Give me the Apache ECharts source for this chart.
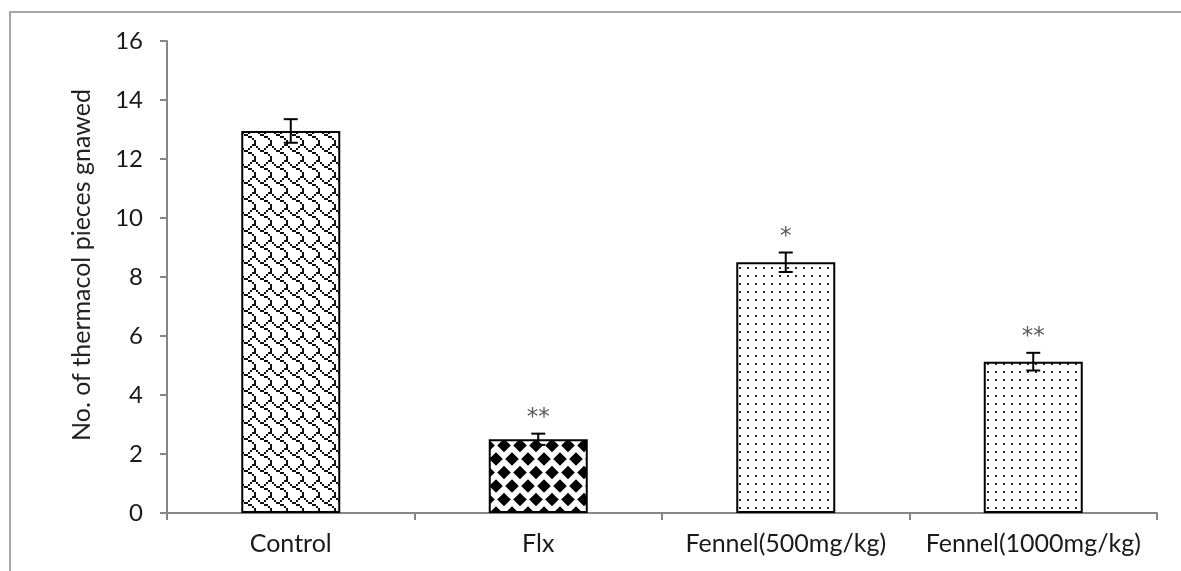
<!DOCTYPE html>
<html>
<head>
<meta charset="utf-8">
<script src="https://cdn.jsdelivr.net/npm/echarts@6/dist/echarts.min.js"></script>
<style>
  html, body { margin: 0; padding: 0; background: #fff; }
  #chart { width: 1181px; height: 571px; }
</style>
</head>
<body>
<div id="chart"></div>
<script>
// Groups, mean number of pieces gnawed, SEM and significance marks
const categories = ['Control', 'Flx', 'Fennel(500mg/kg)', 'Fennel(1000mg/kg)'];
const means = [12.95, 2.5, 8.5, 5.13];
const sems = [0.4, 0.19, 0.33, 0.3];
const marks = ['', '**', '*', '**'];
const yTicks = { min: 0, max: 16, interval: 2 };
const fillKinds = ['shingle', 'diamond', 'dots', 'dots'];

const FONT = 'Lato';

// ---- fill pattern tiles ----
function shingleTile() {
  const rows = [0x03, 0x84, 0x48, 0x30, 0x0c, 0x02, 0x01, 0x01];
  const s = 2;
  const c = document.createElement('canvas');
  c.width = 8 * s; c.height = 8 * s;
  const g = c.getContext('2d');
  g.fillStyle = '#fff'; g.fillRect(0, 0, c.width, c.height);
  g.fillStyle = '#111';
  for (let y = 0; y < 8; y++) {
    for (let x = 0; x < 8; x++) {
      if (rows[y] & (0x80 >> x)) g.fillRect(x * s, y * s, s, s);
    }
  }
  return c;
}
function diamondTile() {
  const w = 16, h = 27, r = 6.8;
  const c = document.createElement('canvas');
  c.width = w; c.height = h;
  const g = c.getContext('2d');
  g.fillStyle = '#fff'; g.fillRect(0, 0, w, h);
  g.fillStyle = '#000';
  const centers = [[0, 0], [w, 0], [0, h], [w, h], [w / 2, h / 2]];
  centers.forEach(([cx, cy]) => {
    g.beginPath();
    g.moveTo(cx, cy - r); g.lineTo(cx + r, cy); g.lineTo(cx, cy + r); g.lineTo(cx - r, cy);
    g.closePath(); g.fill();
  });
  return c;
}
function dotsTile() {
  const c = document.createElement('canvas');
  c.width = 8; c.height = 8;
  const g = c.getContext('2d');
  g.fillStyle = '#fff'; g.fillRect(0, 0, 8, 8);
  g.fillStyle = '#2a2a2a';
  g.fillRect(3, 3, 2, 2);
  return c;
}
const tiles = { shingle: shingleTile(), diamond: diamondTile(), dots: dotsTile() };

const barData = means.map((v, i) => ({
  value: v,
  itemStyle: { color: { image: tiles[fillKinds[i]], repeat: 'repeat' } }
}));
const errData = means.map((v, i) => [i, v, sems[i], marks[i]]);

const chart = echarts.init(document.getElementById('chart'), null, { renderer: 'canvas' });
chart.setOption({
  animation: false,
  backgroundColor: '#fff',
  grid: { left: 167, right: 24, top: 41, bottom: 58 },
  graphic: [
    { type: 'rect', shape: { x: 10, y: 12, width: 1250, height: 650 },
      style: { fill: 'none', stroke: '#a6a6a6', lineWidth: 2 }, silent: true },
    { type: 'text', x: 82, y: 265, rotation: Math.PI / 2,
      style: { text: 'No. of thermacol pieces gnawed', font: '25px ' + FONT, fill: '#222',
               align: 'center', verticalAlign: 'middle' } }
  ],
  xAxis: {
    type: 'category',
    data: categories,
    axisLine: { lineStyle: { color: '#868686', width: 2 } },
    axisTick: { show: true, length: 7, lineStyle: { color: '#868686', width: 2 } },
    axisLabel: { color: '#1a1a1a', fontFamily: FONT, fontSize: 25, margin: 18,
                 interval: 0, hideOverlap: false }
  },
  yAxis: {
    type: 'value',
    min: yTicks.min, max: yTicks.max, interval: yTicks.interval,
    splitLine: { show: false },
    axisLine: { show: true, lineStyle: { color: '#868686', width: 2 } },
    axisTick: { show: true, length: 7, lineStyle: { color: '#868686', width: 2 } },
    axisLabel: { color: '#1a1a1a', fontFamily: FONT, fontSize: 24, margin: 24 }
  },
  series: [
    {
      type: 'bar',
      data: barData,
      barWidth: '40%',
      itemStyle: { borderColor: '#000', borderWidth: 2 }
    },
    {
      type: 'custom',
      data: errData,
      z: 10,
      clip: false,
      renderItem: function (params, api) {
        const i = api.value(0), m = api.value(1), e = api.value(2);
        const top = api.coord([i, m + e]);
        const bot = api.coord([i, m - e]);
        const x = top[0], half = 7;
        const ls = { stroke: '#000', lineWidth: 2 };
        const children = [
          { type: 'line', shape: { x1: x, y1: top[1], x2: x, y2: bot[1] }, style: ls },
          { type: 'line', shape: { x1: x - half, y1: top[1], x2: x + half, y2: top[1] }, style: ls },
          { type: 'line', shape: { x1: x - half, y1: bot[1], x2: x + half, y2: bot[1] }, style: ls }
        ];
        const mark = marks[params.dataIndex];
        if (mark) {
          children.push({ type: 'text', x: x, y: top[1] - 4,
            style: { text: mark, font: '23px "DejaVu Sans"', fill: '#595959', align: 'center', verticalAlign: 'bottom' } });
        }
        return { type: 'group', children: children };
      }
    }
  ]
});
</script>
</body>
</html>
